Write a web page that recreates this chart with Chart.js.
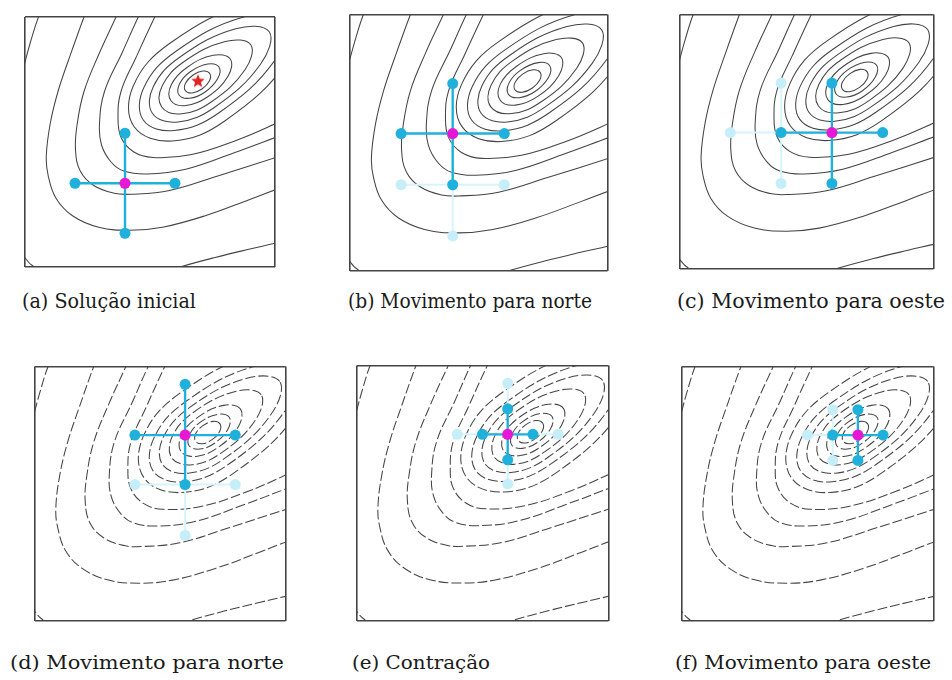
<!DOCTYPE html>
<html>
<head>
<meta charset="utf-8">
<script src="https://cdn.jsdelivr.net/npm/chart.js@4.4.1/dist/chart.umd.min.js"></script>
<style>
html, body { margin: 0; padding: 0; background: #ffffff; }
body { width: 952px; height: 680px; position: relative; overflow: hidden; }
canvas { position: absolute; display: block; }
.cap { position: absolute; white-space: nowrap; color: #1a1a1a; transform-origin: 0 0; line-height: 1; }
.top { font-family: "DejaVu Serif Condensed", "DejaVu Serif", serif; font-size: 21px; }
.bot { font-family: "DejaVu Serif", serif; font-size: 19px; }
</style>
</head>
<body>
<script>
// ---------- DATA (panel coordinates 0..10 on both axes) ----------
const captions = [
  "(a) Solução inicial",
  "(b) Movimento para norte",
  "(c) Movimento para oeste",
  "(d) Movimento para norte",
  "(e) Contração",
  "(f) Movimento para oeste"
];

// level curves around the minimum (closed loops; the outer ones are cut by the top-right corner)
const ring1 = [[7.39,7.74],[7.11,7.84],[6.71,7.67],[6.42,7.35],[6.41,7.06],[6.69,6.96],[7.09,7.13],[7.38,7.45]];
const ring2 = [[7.76,8.00],[7.31,8.12],[6.61,7.81],[6.18,7.32],[6.16,6.88],[6.58,6.75],[7.19,6.99],[7.71,7.54]];
const ring3 = [[8.21,8.32],[7.53,8.47],[6.49,7.99],[5.85,7.29],[5.84,6.65],[6.44,6.46],[7.31,6.81],[8.12,7.63]];
const ring4 = [[9.03,8.89],[8.01,9.02],[6.34,8.20],[5.49,7.25],[5.47,6.40],[6.28,6.13],[7.46,6.61],[8.80,7.89]];
const ring5 = [[9.77,9.41],[8.43,9.53],[6.20,8.40],[5.13,7.21],[5.10,6.14],[6.12,5.80],[7.60,6.40],[9.42,8.11]];
const ring6 = [[10.42,9.87],[8.78,10.01],[6.04,8.63],[4.76,7.19],[4.73,5.88],[5.97,5.46],[7.76,6.17],[10.0,8.28]];
const ring7 = [[11.0,10.27],[9.02,10.53],[5.81,8.96],[4.33,7.24],[4.36,5.62],[5.88,5.04],[7.99,5.84],[10.57,8.33]];

// open level curves (leave the box at the top and right edges)
const wedge1 = [[5.55,10.7],[5.19,10.0],[4.45,8.4],[3.84,7.02],[3.72,5.97],[3.84,5.19],[4.34,4.61],[5.12,4.38],[6.67,4.50],[8.49,5.08],[10.04,5.74],[10.9,6.15]];
const wedge2 = [[4.9,10.7],[4.53,10.0],[3.9,8.6],[3.18,7.02],[2.98,5.74],[3.06,4.88],[3.45,4.19],[3.95,3.84],[4.88,3.72],[6.43,3.91],[8.37,4.57],[10.04,5.19],[10.9,5.5]];
const wedge3 = [[3.95,10.7],[3.64,10.0],[2.95,8.5],[2.36,7.02],[2.09,5.74],[2.02,4.69],[2.21,3.84],[2.75,3.26],[3.57,2.95],[4.22,2.91],[5.78,3.06],[7.71,3.64],[10.04,4.38],[10.9,4.65]];
const wedge4 = [[2.65,10.7],[2.36,10.0],[1.75,8.3],[1.32,7.02],[1.01,5.74],[0.85,4.42],[0.93,3.64],[1.24,2.75],[1.90,2.05],[2.95,1.59],[4.22,1.47],[5.50,1.59],[7.21,2.05],[8.99,2.7],[10.04,3.1],[10.9,3.4]];
const cornerTopLeft = [[0.8,10.5],[0.54,10.0],[0.22,9.0],[0.0,8.2],[-0.15,7.6]];
const cornerBottomLeft = [[-0.2,0.6],[0.0,0.37],[0.18,0.15],[0.36,0.0],[0.5,-0.2]];
const cornerBottomRight = [[5.3,-0.3],[6.2,0.0],[7.6,0.38],[9.0,0.72],[10.0,0.95],[10.8,1.15]];

// optimum (red star, panel a)
const optimum = [[6.92,7.43]];

// current iterate of each panel (magenta)
const centers = [[4,3.35],[4,5.35],[6,5.35],[6,7.3],[6,7.3],[7,7.3]];
// trial points of each panel (cyan): west, east, north, south
const trialsA = [[2,3.35],[6,3.35],[4,5.35],[4,1.35]];
const trialsB = [[2,5.35],[6,5.35],[4,7.3],[4,3.35]];
const trialsC = [[4,5.35],[8,5.35],[6,7.3],[6,3.35]];
const trialsD = [[4,7.3],[8,7.3],[6,9.3],[6,5.35]];
const trialsE = [[5,7.3],[7,7.3],[6,8.3],[6,6.3]];
const trialsF = [[6,7.3],[8,7.3],[7,8.3],[7,6.3]];

// ---------- LAYOUT / STYLE ----------
const trials = [trialsA, trialsB, trialsC, trialsD, trialsE, trialsF];
const closedCurves = [ring1, ring2, ring3, ring4, ring5, ring6, ring7];
const openCurves = [wedge1, wedge2, wedge3, wedge4, cornerTopLeft, cornerBottomLeft, cornerBottomRight];

const panelBoxes = [[21,13,258,258],[348,13,261,259],[678,13,257,257],[33,365,254,257],[355,364,255,258],[680,365,255,257]];
const captionLayout = [[22,291,174,'top'],[348,291,244,'top'],[677,291,268,'top'],[10,653,274,'bot'],[352,653,138,'bot'],[675,653,256,'bot']];
const PAD = 4;
const CYAN = '#1fb1dc', MAGENTA = '#e817d6', FADED_PT = '#c6eef9', FADED_LN = '#d6f4fb';
const CONTOUR = '#444444';

function makeStar(size, color) {
  const c = document.createElement('canvas');
  c.width = size; c.height = size;
  const g = c.getContext('2d');
  g.fillStyle = color;
  g.beginPath();
  const R = size / 2, r = R * 0.45;
  for (let i = 0; i < 10; i++) {
    const ang = -Math.PI / 2 + i * Math.PI / 5;
    const rad = i % 2 ? r : R;
    g.lineTo(R + rad * Math.cos(ang), R + rad * Math.sin(ang));
  }
  g.closePath();
  g.fill();
  return c;
}
const starImg = makeStar(14, '#e32222');

// closes the spline of ring datasets so they are drawn as smooth loops
const closeLoops = {
  id: 'closeLoops',
  afterDatasetUpdate(chart, args) {
    const ds = chart.data.datasets[args.index];
    if (ds.closedLoop && args.meta.dataset) {
      args.meta.dataset._loop = true;
      args.meta.dataset._fullLoop = true;
    }
  }
};

function contourSet(points, closed, dashed) {
  return {
    data: points, showLine: true, closedLoop: closed, spanGaps: true,
    borderColor: CONTOUR, borderWidth: 1.05, borderDash: dashed ? [10, 3] : [],
    tension: 0.4, pointRadius: 0, pointHoverRadius: 0, clip: 0, order: 6
  };
}
function lineSet(points, color, width, order) {
  return { data: points, showLine: true, borderColor: color, borderWidth: width, tension: 0,
           pointRadius: 0, pointHoverRadius: 0, order: order };
}
function pointSet(points, color, radius, order) {
  return { data: points, showLine: false, pointRadius: radius, pointHoverRadius: radius,
           backgroundColor: color, pointBackgroundColor: color, pointBorderWidth: 0, order: order };
}

panelBoxes.forEach((box, i) => {
  const [L, T, W, H] = box;
  const cv = document.createElement('canvas');
  cv.width = W + 2 * PAD; cv.height = H + 2 * PAD;
  cv.style.left = (L - PAD) + 'px'; cv.style.top = (T - PAD) + 'px';
  document.body.appendChild(cv);
  const dashed = i >= 3;
  const datasets = [];

  closedCurves.forEach(c => datasets.push(contourSet(c, true, dashed)));
  openCurves.forEach(c => datasets.push(contourSet(c, false, dashed)));

  if (i > 0) {
    const pc = centers[i - 1], pt = trials[i - 1];
    datasets.push(lineSet([pt[0], pc, pt[1]], FADED_LN, 2, 5));
    datasets.push(lineSet([pt[2], pc, pt[3]], FADED_LN, 2, 5));
    datasets.push(pointSet(pt, FADED_PT, 5.5, 4));
  }
  const c = centers[i], t = trials[i];
  datasets.push(lineSet([t[0], c, t[1]], CYAN, 2.4, 3));
  datasets.push(lineSet([t[2], c, t[3]], CYAN, 2.4, 3));
  datasets.push(pointSet(t, CYAN, 5.5, 2));
  datasets.push(pointSet([c], MAGENTA, 5.5, 1));
  if (i === 0) {
    datasets.push({ data: optimum, showLine: false, pointStyle: starImg, pointRadius: 7, order: 0 });
  }

  new Chart(cv, {
    type: 'scatter',
    data: { datasets },
    plugins: [closeLoops],
    options: {
      responsive: false, animation: false, events: [],
      layout: { padding: PAD },
      elements: { line: { capBezierPoints: false } },
      plugins: { legend: { display: false }, tooltip: { enabled: false }, title: { display: false } },
      scales: {
        x: { type: 'linear', min: 0, max: 10,
             ticks: { display: false, stepSize: 10 },
             grid: { display: true, color: '#444444', lineWidth: 1.6, drawTicks: false },
             border: { display: false } },
        y: { type: 'linear', min: 0, max: 10,
             ticks: { display: false, stepSize: 10 },
             grid: { display: true, color: '#444444', lineWidth: 1.6, drawTicks: false },
             border: { display: false } }
      }
    }
  });
});

captions.forEach((text, i) => {
  const [L, T, targetW, cls] = captionLayout[i];
  const el = document.createElement('div');
  el.className = 'cap ' + cls;
  el.textContent = text;
  el.style.left = L + 'px';
  el.style.top = T + 'px';
  document.body.appendChild(el);
  const w = el.getBoundingClientRect().width;
  el.style.transform = 'scaleX(' + (targetW / w).toFixed(4) + ')';
});
</script>
</body>
</html>
